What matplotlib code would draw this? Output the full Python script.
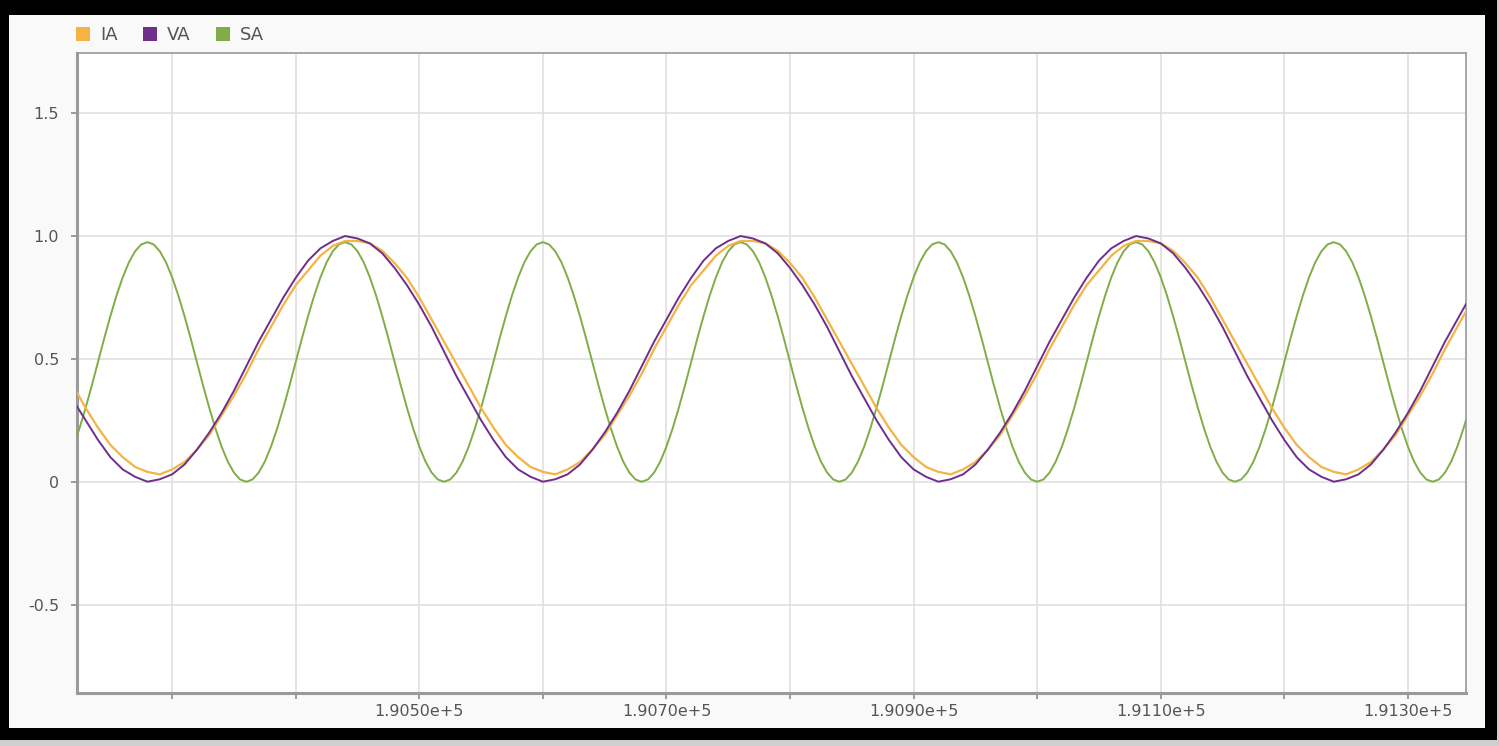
import numpy as np
import matplotlib.pyplot as plt
from matplotlib.patches import Rectangle
from matplotlib.lines import Line2D

plt.rcParams['font.family'] = ['DejaVu Sans']

# sample times for IA / VA: first sample and spacing (x units)
t_start = 190220
t_step = 10
# SA is read at a finer spacing
t_step_sa = 5

# values, one per sample
ia = [0.39, 0.30, 0.22, 0.15, 0.10, 0.06, 0.04, 0.03, 0.05, 0.08, 0.13, 0.19, 0.27, 0.35, 0.44, 0.54,
      0.63, 0.72, 0.80, 0.86, 0.92, 0.96,
      0.98, 0.98, 0.97, 0.94, 0.89, 0.83, 0.75, 0.66, 0.57, 0.48, 0.39, 0.30, 0.22, 0.15, 0.10, 0.06,
      0.04, 0.03, 0.05, 0.08, 0.13, 0.19, 0.27, 0.35, 0.44, 0.54, 0.63, 0.72, 0.80, 0.86, 0.92, 0.96,
      0.98, 0.98, 0.97, 0.94, 0.89, 0.83, 0.75, 0.66, 0.57, 0.48, 0.39, 0.30, 0.22, 0.15, 0.10, 0.06,
      0.04, 0.03, 0.05, 0.08, 0.13, 0.19, 0.27, 0.35, 0.44, 0.54, 0.63, 0.72, 0.80, 0.86, 0.92, 0.96,
      0.98, 0.98, 0.97, 0.94, 0.89, 0.83, 0.75, 0.66, 0.57, 0.48, 0.39, 0.30, 0.22, 0.15, 0.10, 0.06,
      0.04, 0.03, 0.05, 0.08, 0.13, 0.19, 0.27, 0.35, 0.44, 0.54, 0.63, 0.72, 0.80]

va = [0.33, 0.25, 0.17, 0.10, 0.05, 0.02, 0.00, 0.01, 0.03, 0.07, 0.13, 0.20, 0.28, 0.37, 0.47, 0.57,
      0.66, 0.75, 0.83, 0.90, 0.95, 0.98,
      1.00, 0.99, 0.97, 0.93, 0.87, 0.80, 0.72, 0.63, 0.53, 0.43, 0.34, 0.25, 0.17, 0.10, 0.05, 0.02,
      0.00, 0.01, 0.03, 0.07, 0.13, 0.20, 0.28, 0.37, 0.47, 0.57, 0.66, 0.75, 0.83, 0.90, 0.95, 0.98,
      1.00, 0.99, 0.97, 0.93, 0.87, 0.80, 0.72, 0.63, 0.53, 0.43, 0.34, 0.25, 0.17, 0.10, 0.05, 0.02,
      0.00, 0.01, 0.03, 0.07, 0.13, 0.20, 0.28, 0.37, 0.47, 0.57, 0.66, 0.75, 0.83, 0.90, 0.95, 0.98,
      1.00, 0.99, 0.97, 0.93, 0.87, 0.80, 0.72, 0.63, 0.53, 0.43, 0.34, 0.25, 0.17, 0.10, 0.05, 0.02,
      0.00, 0.01, 0.03, 0.07, 0.13, 0.20, 0.28, 0.37, 0.47, 0.57, 0.66, 0.75, 0.83]

sa = [0.143, 0.217, 0.301, 0.392, 0.488, 0.583, 0.674, 0.758, 0.832, 0.893, 0.938, 0.966,
      0.975, 0.966, 0.938, 0.893, 0.832, 0.758, 0.674, 0.583, 0.488, 0.392, 0.301, 0.217, 0.143, 0.082,
      0.037, 0.009, 0.000, 0.009, 0.037, 0.082, 0.143, 0.217, 0.301, 0.392, 0.488, 0.583, 0.674, 0.758,
      0.832, 0.893, 0.938, 0.966,
      0.975, 0.966, 0.938, 0.893, 0.832, 0.758, 0.674, 0.583, 0.488, 0.392, 0.301, 0.217, 0.143, 0.082,
      0.037, 0.009, 0.000, 0.009, 0.037, 0.082, 0.143, 0.217, 0.301, 0.392, 0.488, 0.583, 0.674, 0.758,
      0.832, 0.893, 0.938, 0.966,
      0.975, 0.966, 0.938, 0.893, 0.832, 0.758, 0.674, 0.583, 0.488, 0.392, 0.301, 0.217, 0.143, 0.082,
      0.037, 0.009, 0.000, 0.009, 0.037, 0.082, 0.143, 0.217, 0.301, 0.392, 0.488, 0.583, 0.674, 0.758,
      0.832, 0.893, 0.938, 0.966,
      0.975, 0.966, 0.938, 0.893, 0.832, 0.758, 0.674, 0.583, 0.488, 0.392, 0.301, 0.217, 0.143, 0.082,
      0.037, 0.009, 0.000, 0.009, 0.037, 0.082, 0.143, 0.217, 0.301, 0.392, 0.488, 0.583, 0.674, 0.758,
      0.832, 0.893, 0.938, 0.966,
      0.975, 0.966, 0.938, 0.893, 0.832, 0.758, 0.674, 0.583, 0.488, 0.392, 0.301, 0.217, 0.143, 0.082,
      0.037, 0.009, 0.000, 0.009, 0.037, 0.082, 0.143, 0.217, 0.301, 0.392, 0.488, 0.583, 0.674, 0.758,
      0.832, 0.893, 0.938, 0.966,
      0.975, 0.966, 0.938, 0.893, 0.832, 0.758, 0.674, 0.583, 0.488, 0.392, 0.301, 0.217, 0.143, 0.082,
      0.037, 0.009, 0.000, 0.009, 0.037, 0.082, 0.143, 0.217, 0.301, 0.392, 0.488, 0.583, 0.674, 0.758,
      0.832, 0.893, 0.938, 0.966,
      0.975, 0.966, 0.938, 0.893, 0.832, 0.758, 0.674, 0.583, 0.488, 0.392, 0.301, 0.217, 0.143, 0.082,
      0.037, 0.009, 0.000, 0.009, 0.037, 0.082, 0.143, 0.217, 0.301]

series_names = ['IA', 'VA', 'SA']
series_colors = ['#f3b443', '#6e2f8c', '#80ad47']

x_ticks = [190300, 190400, 190500, 190600, 190700, 190800, 190900, 191000, 191100, 191200, 191300]
x_labels = ['', '', '1.9050e+5', '', '1.9070e+5', '', '1.9090e+5', '', '1.9110e+5', '', '1.9130e+5']
y_ticks = [-0.5, 0, 0.5, 1.0, 1.5]
y_labels = ['-0.5', '0', '0.5', '1.0', '1.5']

t = t_start + t_step * np.arange(len(va))
t_sa = t_start + t_step_sa * np.arange(len(sa))

W, H = 1499, 746
fig = plt.figure(figsize=(W / 100, H / 100), dpi=100, facecolor='#cfcfcf')

# screenshot frame: black border, light inner panel
fig.add_artist(Rectangle((0, 6 / H), 1497 / W, 740 / H, transform=fig.transFigure,
                         facecolor='black', edgecolor='none', zorder=-10))
fig.add_artist(Rectangle((9 / W, 18 / H), 1476 / W, 713 / H, transform=fig.transFigure,
                         facecolor='#f9f9f9', edgecolor='none', zorder=-9))

ax = fig.add_axes([77 / W, (H - 693) / H, (1466 - 77) / W, (693 - 53) / H])
ax.set_facecolor('white')

ax.plot(t_sa, sa, color=series_colors[2], lw=1.4, zorder=3)
ax.plot(t, ia, color=series_colors[0], lw=1.6, zorder=4)
ax.plot(t, va, color=series_colors[1], lw=1.4, zorder=5)

ax.set_xlim(190223, 191347)
ax.set_ylim(-0.86, 1.745)
ax.set_xticks(x_ticks, x_labels)
ax.set_yticks(y_ticks, y_labels)
ax.grid(True, color='#e0e0e0', lw=1.2)
ax.set_axisbelow(True)
for s in ax.spines.values():
    s.set_color('#9a9a9a')
    s.set_linewidth(1.2)
ax.spines['left'].set_linewidth(2.2)
ax.spines['bottom'].set_linewidth(2.2)
ax.tick_params(colors='#8a8a8a', length=4, width=1.2, labelcolor='#555555',
               labelsize=11.5)
ax.tick_params(axis='x', pad=4)
ax.tick_params(axis='y', pad=9)

handles = [Line2D([], [], marker='s', ls='none', markersize=9.5, color=c,
                  markeredgewidth=0) for c in series_colors]
ax.legend(handles, series_names, loc='center left', bbox_to_anchor=(-0.0025, 1.0274),
          ncol=3, frameon=False, borderaxespad=0, borderpad=0, handlelength=1.0,
          handletextpad=0.47, columnspacing=1.27, prop={'size': 13},
          labelcolor='#555555')

fig.savefig('out.png', dpi=100, facecolor=fig.get_facecolor())
